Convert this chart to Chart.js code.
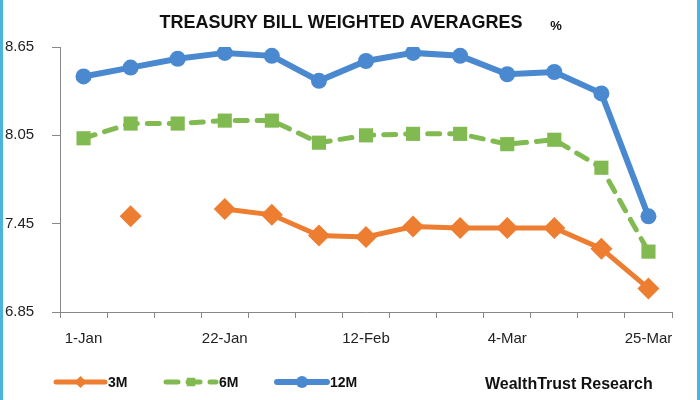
<!DOCTYPE html>
<html>
<head>
<meta charset="utf-8">
<script src="https://cdn.jsdelivr.net/npm/chart.js@4"></script>
<style>
  html, body { margin: 0; padding: 0; background: #fff; }
  #wrap { width: 700px; height: 400px; position: relative; }
  #wrap:before, #wrap:after {
    content: ""; position: absolute; top: 0; bottom: 0; width: 3px; background: #4cb3d9; z-index: 2;
  }
  #wrap:before { left: 0; }
  #wrap:after { right: 0; }
</style>
</head>
<body>
<div id="wrap"><canvas id="chart" width="700" height="400"></canvas></div>
<script>
const dates = ["1-Jan", "8-Jan", "15-Jan", "22-Jan", "29-Jan", "5-Feb", "12-Feb",
  "19-Feb", "26-Feb", "4-Mar", "11-Mar", "18-Mar", "25-Mar"];
const yield3M = [null, 7.50, null, 7.55, 7.51, 7.37, 7.36, 7.43, 7.42, 7.42, 7.42, 7.28, 7.01];
const yield6M = [8.03, 8.13, 8.13, 8.15, 8.15, 8.00, 8.05, 8.06, 8.06, 7.99, 8.02, 7.83, 7.26];
const yield12M = [8.45, 8.51, 8.57, 8.61, 8.59, 8.42, 8.555, 8.61, 8.59, 8.465, 8.48, 8.335, 7.50];
const yTicks = [6.85, 7.45, 8.05, 8.65];

const titleText = "TREASURY BILL WEIGHTED AVERAGRES";
const sourceText = "WealthTrust Research";

const extras = {
  id: "extras",
  afterDraw(chart) {
    const ctx = chart.ctx;
    ctx.save();
    ctx.fillStyle = "#111";
    ctx.textBaseline = "middle";
    ctx.textAlign = "center";
    ctx.font = "bold 18px 'Liberation Sans', sans-serif";
    ctx.fillText(titleText, 341, 23);
    ctx.font = "bold 13px 'Liberation Sans', sans-serif";
    ctx.fillText("%", 556, 26);

    // legend
    const items = [
      { ds: 0, x1: 56, x2: 105, tx: 108 },
      { ds: 1, x1: 166, x2: 216, tx: 219 },
      { ds: 2, x1: 277, x2: 327, tx: 330 }
    ];
    const ly = 382;
    items.forEach(it => {
      const d = chart.data.datasets[it.ds];
      ctx.save();
      ctx.strokeStyle = d.borderColor;
      ctx.lineWidth = d.borderWidth;
      ctx.lineCap = "round";
      ctx.setLineDash(d.borderDash || []);
      ctx.beginPath();
      ctx.moveTo(it.x1, ly);
      ctx.lineTo(it.x2, ly);
      ctx.stroke();
      ctx.restore();
      ctx.fillStyle = d.borderColor;
      Chart.helpers.drawPoint(ctx, { pointStyle: d.pointStyle, radius: 6, borderWidth: 0 }, (it.x1 + it.x2) / 2, ly);
      ctx.fillStyle = "#111";
      ctx.textAlign = "left";
      ctx.font = "bold 14px 'Liberation Sans', sans-serif";
      ctx.fillText(d.label, it.tx, ly + 1);
    });
    ctx.font = "bold 16px 'Liberation Sans', sans-serif";
    ctx.textAlign = "left";
    ctx.fillText(sourceText, 485, 385);
    ctx.restore();
  }
};

new Chart(document.getElementById("chart"), {
  type: "line",
  data: {
    labels: dates,
    datasets: [
      {
        label: "3M",
        data: yield3M,
        borderColor: "#ED7D31",
        backgroundColor: "#ED7D31",
        borderWidth: 5,
        pointStyle: "rectRot",
        pointRadius: 11,
        pointBorderWidth: 0,
        spanGaps: false,
        order: 3
      },
      {
        label: "6M",
        data: yield6M,
        borderColor: "#82BA52",
        backgroundColor: "#82BA52",
        borderWidth: 5,
        borderDash: [12, 10],
        borderCapStyle: "round",
        pointStyle: "rect",
        pointRadius: 10,
        pointBorderWidth: 0,
        order: 2
      },
      {
        label: "12M",
        data: yield12M,
        borderColor: "#4A89CF",
        backgroundColor: "#4A89CF",
        borderWidth: 6,
        pointStyle: "circle",
        pointRadius: 8,
        pointBorderWidth: 0,
        order: 1
      }
    ]
  },
  options: {
    responsive: false,
    animation: false,
    layout: { padding: { top: 47, left: 5, right: 28, bottom: 0 } },
    plugins: {
      legend: { display: false },
      title: { display: false },
      tooltip: { enabled: false }
    },
    scales: {
      x: {
        offset: true,
        grid: { offset: true, drawOnChartArea: false, tickLength: 6, color: "#888" },
        border: { color: "#888" },
        ticks: {
          autoSkip: false,
          maxRotation: 0,
          padding: 12,
          color: "#222",
          font: { family: "'Liberation Sans', sans-serif", size: 15 },
          callback: (v, i) => (i % 3 === 0 ? dates[i] : "")
        },
        afterFit: (s) => { s.height = 88; }
      },
      y: {
        min: 6.85,
        max: 8.65,
        afterBuildTicks: (s) => { s.ticks = yTicks.map(v => ({ value: v })); },
        grid: { drawOnChartArea: false, tickLength: 8, color: "#888" },
        border: { color: "#888" },
        ticks: {
          crossAlign: "far",
          padding: 14,
          color: "#222",
          font: { family: "'Liberation Sans', sans-serif", size: 15 },
          callback: (v) => Number(v).toFixed(2)
        },
        afterFit: (s) => { s.width = 55; }
      }
    }
  },
  plugins: [extras]
});
</script>
</body>
</html>
